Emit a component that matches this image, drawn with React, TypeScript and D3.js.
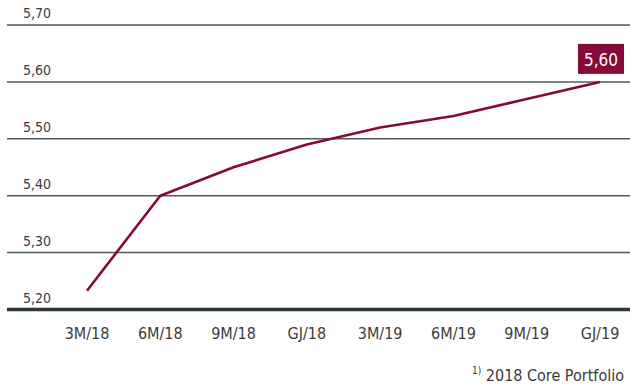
import React from "react";
import * as d3 from "d3";

const categories = ["3M/18", "6M/18", "9M/18", "GJ/18", "3M/19", "6M/19", "9M/19", "GJ/19"];
const values = [5.233, 5.4, 5.45, 5.49, 5.52, 5.54, 5.57, 5.6];
const yTicks = [5.2, 5.3, 5.4, 5.5, 5.6, 5.7];
const lastLabel = "5,60";
const footnote = "2018 Core Portfolio";

const W = 630;
const H = 387;
const FONT = "'Liberation Sans Narrow', 'DejaVu Sans Condensed', 'Roboto Condensed', sans-serif";
const MAROON = "#850a3a";
const GRID = "#4f5b59";

export default function App() {
  const x = d3.scalePoint<string>().domain(categories).range([87, 600]);
  const y = d3.scaleLinear().domain([5.2, 5.7]).range([309.5, 25]);
  const line = d3
    .line<number>()
    .x((_, i) => x(categories[i]) as number)
    .y((d) => y(d));
  const fmt = (v: number) => v.toFixed(2).replace(".", ",");
  const lx = x(categories[categories.length - 1]) as number;
  const ly = y(values[values.length - 1]);

  return (
    <svg width={W} height={H} style={{ position: "absolute", left: 0, top: 0 }}>
      <rect width={W} height={H} fill="#fff" />
      {yTicks.map((t, i) => (
        <g key={t}>
          <line
            x1={7}
            x2={W}
            y1={y(t)}
            y2={y(t)}
            stroke={i === 0 ? "#2b3836" : GRID}
            strokeWidth={i === 0 ? 3.5 : 1.5}
          />
          <text x={23} y={y(t) - 7} fontFamily={FONT} fontSize={14} fill="#3b3b3b">
            {fmt(t)}
          </text>
        </g>
      ))}
      <path d={line(values) || ""} fill="none" stroke={MAROON} strokeWidth={2.6} strokeLinejoin="round" />
      {categories.map((c) => (
        <text
          key={c}
          x={x(c) as number}
          y={339}
          textAnchor="middle"
          fontFamily={FONT}
          fontSize={16}
          fill="#3b3b3b"
        >
          {c}
        </text>
      ))}
      <rect x={lx - 22} y={ly - 38} width={46} height={30} fill={MAROON} />
      <text x={lx + 1} y={ly - 16} textAnchor="middle" fontFamily={FONT} fontSize={17} fill="#fff">
        {lastLabel}
      </text>
      <text x={624} y={381} textAnchor="end" fontFamily={FONT} fontSize={16} fill="#3b3b3b">
        <tspan fontSize={10} dy={-7}>1)</tspan>
        <tspan dy={7}> {footnote}</tspan>
      </text>
    </svg>
  );
}
